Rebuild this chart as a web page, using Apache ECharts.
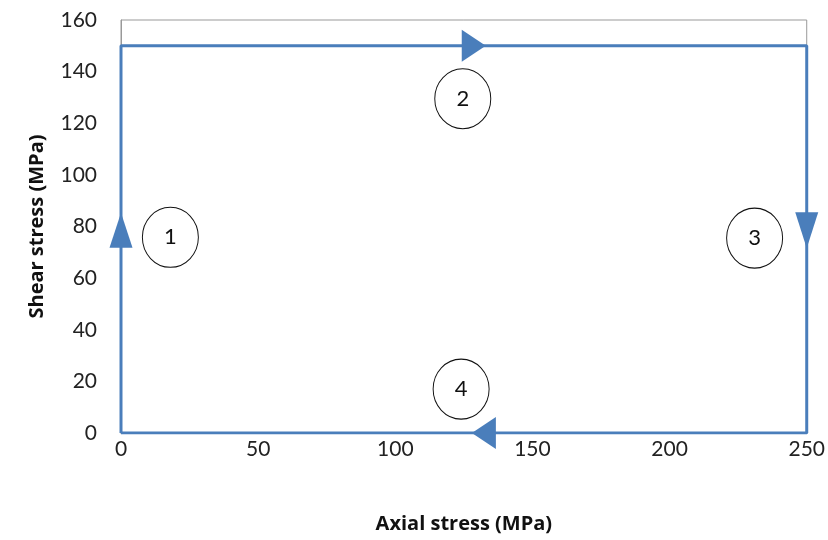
<!DOCTYPE html>
<html><head><meta charset="utf-8">
<script src="https://cdn.jsdelivr.net/npm/echarts@6/dist/echarts.min.js"></script>
<style>html,body{margin:0;padding:0;background:#fff}#c{width:828px;height:540px}</style>
</head><body><div id="c"></div>
<script>
var pathPoints = [[0,0],[0,150],[250,150],[250,0],[0,0]];
var arrowPoints = [[0,78.5],[128.6,150],[250,78.5],[132.3,0]];
var circlePoints = [[18,75.8,'1'],[124.6,129.5,'2'],[231,75.5,'3'],[124,17,'4']];
var xTitle = 'Axial stress (MPa)';
var yTitle = 'Shear stress (MPa)';

var arrowRot = [0,-90,180,90];
var arrowSize = [[23,35],[32,24],[23,36],[32,24]];
var FONT = 'Lato, "Open Sans", sans-serif';
var TFONT = '"Open Sans", Lato, sans-serif';
var blue = '#4a7ebb';

var chart = echarts.init(document.getElementById('c'));
chart.setOption({
  animation:false,
  grid:{left:121,right:21,top:20,bottom:107,show:true,borderColor:'#999',borderWidth:1},
  xAxis:{type:'value',min:0,max:250,interval:50,
    axisLine:{show:true,lineStyle:{color:'#999'}},axisTick:{show:false},splitLine:{show:false},
    axisLabel:{color:'#222',fontSize:21,fontFamily:FONT,margin:6},
    name:xTitle,nameLocation:'middle',nameGap:81,
    nameTextStyle:{color:'#111',fontSize:20,fontWeight:'bold',fontFamily:TFONT}},
  yAxis:{type:'value',min:0,max:160,interval:20,
    axisLine:{show:true,lineStyle:{color:'#999'}},axisTick:{show:false},splitLine:{show:false},
    axisLabel:{color:'#222',fontSize:21,fontFamily:FONT,margin:24},
    name:yTitle,nameLocation:'middle',nameGap:74,
    nameTextStyle:{color:'#111',fontSize:20,fontWeight:'bold',fontFamily:TFONT}},
  series:[
    {type:'line',data:pathPoints,showSymbol:false,symbol:'none',
     lineStyle:{color:blue,width:3},z:3},
    {type:'scatter',z:4,
     data:arrowPoints.map(function(p,i){return {value:p,symbolRotate:arrowRot[i],symbolSize:arrowSize[i]};}),
     symbol:'triangle',itemStyle:{color:blue,opacity:1}},
    {type:'scatter',z:5,symbol:'circle',symbolSize:[56,60],
     data:circlePoints.map(function(p){return {value:[p[0],p[1]],name:p[2]};}),
     itemStyle:{color:'#fff',borderColor:'#111',borderWidth:1,opacity:1},
     label:{show:true,position:'inside',formatter:'{b}',color:'#111',fontSize:22,fontFamily:FONT}}
  ]
});
</script></body></html>
